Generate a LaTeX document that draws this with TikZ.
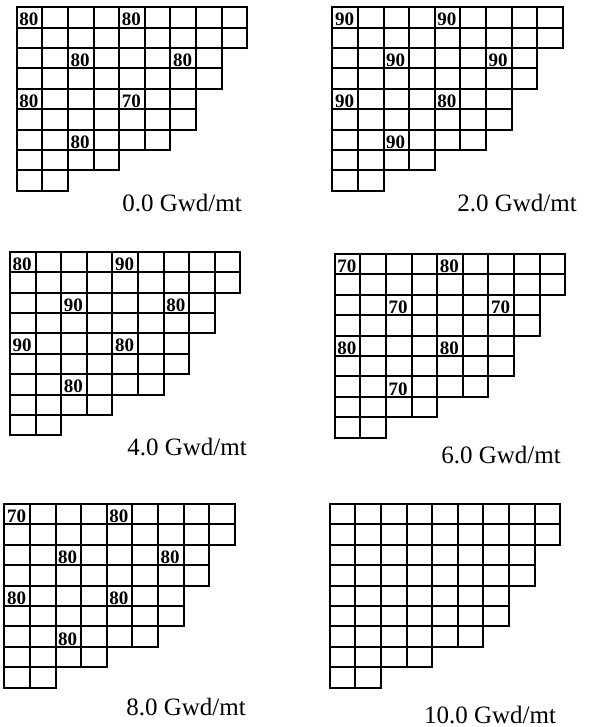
\documentclass[tikz,border=0pt]{standalone}
\usepackage{fontspec}
\setmainfont{Liberation Serif}
\usepackage{xcolor}

\begin{document}
\begin{tikzpicture}[x=1pt,y=-1pt]
\def\w{25.6}     
\def\h{20.4}

\tikzset{
  pin/.style={draw=black, line width=2pt},
  cellval/.style={anchor=base west, inner sep=0pt, font=\fontspec{Liberation Serif Bold}\fontsize{19}{19}\selectfont},
  burnup/.style={anchor=base, inner sep=0pt, font=\fontsize{25}{25}\selectfont}
}

\useasboundingbox (0,0) rectangle (596,727);

% quarter core maps
\foreach \m/\gx/\gy/\tx/\ty/\cap in {1/16.7/7.3/182/211.7/0.0, 2/332.3/7.3/517/211.7/2.0,
    3/10/251.7/187/455/4.0, 4/334.7/254/501/463/6.0,
    5/4.3/504/186/715/8.0, 6/329.7/504/490/723/10.0}{
  \foreach \r/\n in {0/9,1/9,2/8,3/8,4/7,5/7,6/6,7/4,8/2}{
    \foreach \c in {1,...,\n}{
      \draw[pin] ({\gx+(\c-1)*\w},{\gy+\r*\h}) rectangle ++(\w,\h);
    }
  }
  \node[burnup] (cap\m) at (\tx,\ty) {\cap\ Gwd/mt};
}

% enrichment values
\foreach \m/\gx/\gy/\a/\b/\c/\d/\e/\f/\g in {1/16.7/7.3/80/80/80/80/80/70/80,
    2/332.3/7.3/90/90/90/90/90/80/90, 3/10/251.7/80/90/90/80/90/80/80,
    4/334.7/254/70/80/70/70/80/80/70, 5/4.3/504/70/80/80/80/80/80/80}{
  \foreach \r/\k/\v in {0/0/\a,0/4/\b,2/2/\c,2/6/\d,4/0/\e,4/4/\f,6/2/\g}{
    \node[cellval] (v\m-\r\k) at ({\gx+\k*\w+2.5},{\gy+(\r+1)*\h-1.8}) {\v};
  }
}
\end{tikzpicture}
\end{document}
